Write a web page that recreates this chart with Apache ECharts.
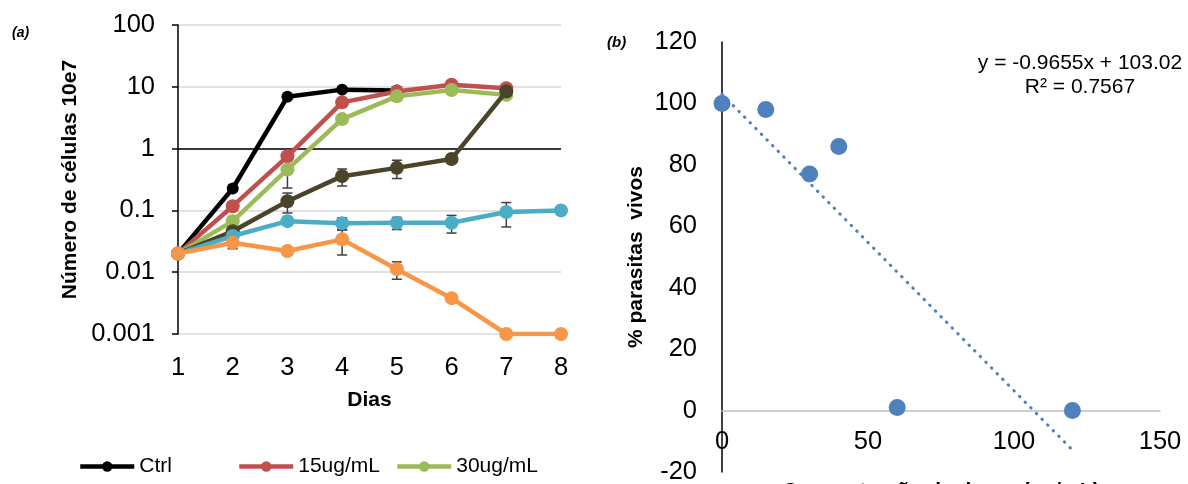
<!DOCTYPE html>
<html>
<head>
<meta charset="utf-8">
<style>
  html, body { margin: 0; padding: 0; background: #ffffff; }
  #chart { width: 1188px; height: 484px; }
</style>
<script src="https://cdn.jsdelivr.net/npm/echarts@6/dist/echarts.min.js"></script>
</head>
<body>
<div id="chart"></div>
<script>
// ---- Panel (a): cell growth over days (log scale) ----
const days = [1, 2, 3, 4, 5, 6, 7, 8];
const yTicksA = ['0.001', '0.01', '0.1', '1', '10', '100'];

const ctrl   = [0.02, 0.226, 6.9, 9.0, 8.7, null, null, null];
const c15    = [0.02, 0.117, 0.75, 5.6, 8.4, 10.8, 9.5, null];
const c30    = [0.02, 0.067, 0.46, 3.0, 7.0, 8.9, 7.4, null];
const c40    = [0.02, 0.046, 0.141, 0.358, 0.488, 0.68, 8.4, null];
const c60    = [0.02, 0.0385, 0.067, 0.062, 0.063, 0.063, 0.094, 0.1];
const c120   = [0.02, 0.030, 0.022, 0.034, 0.0112, 0.0038, 0.001, 0.001];

// error bar half-widths (same units as the values)
const err30  = [null, null, 0.23, null, null, null, null, null];
const err40  = [null, null, 0.05, 0.11, 0.16, null, null, null];
const err60  = [null, null, null, 0.014, 0.014, 0.02, 0.04, null];
const err120 = [null, 0.006, null, 0.015, 0.0035, null, null, null];

// ---- Panel (b): viability vs concentration ----
const conc      = [0, 15, 30, 40, 60, 120];
const viability = [100, 98, 77, 86, 1, 0];
const trendSlope = -0.9655;
const trendIntercept = 103.02;
const trendR2 = 0.7567;

const yMinB = -20, yMaxB = 120;

const FONT = '"Liberation Sans", Arial, sans-serif';
const TICK_FS = 25.5;
const NAME_FS = 21;

const seriesDefs = [
  { name: 'Ctrl',     data: ctrl, color: '#000000', size: 12 },
  { name: '15ug/mL',  data: c15,  color: '#C0504D', size: 14 },
  { name: '30ug/mL',  data: c30,  color: '#9BBB59', size: 14 },
  { name: '40ug/mL',  data: c40,  color: '#4A452A', size: 14 },
  { name: '60ug/mL',  data: c60,  color: '#4BACC6', size: 14 },
  { name: '120ug/mL', data: c120, color: '#F79646', size: 14 }
];
const errDefs = [err30, err40, err60, err120];
const errValues = [c30, c40, c60, c120];

function pairs(xs, ys) {
  const out = [];
  xs.forEach((x, i) => { if (ys[i] != null) out.push([x, ys[i]]); });
  return out;
}

const errData = [];
errDefs.forEach((errs, k) => {
  errs.forEach((e, i) => {
    if (e != null) errData.push([days[i], errValues[k][i], e]);
  });
});

const lineSeries = seriesDefs.map((s, idx) => ({
  type: 'line',
  name: s.name,
  xAxisIndex: 0,
  yAxisIndex: 0,
  data: pairs(days, s.data),
  symbol: 'circle',
  symbolSize: s.size,
  showSymbol: true,
  lineStyle: { width: 4.5, color: s.color },
  itemStyle: { color: s.color },
  z: 3 + idx,
  emphasis: { disabled: true },
  markLine: idx === 0 ? {
    silent: true,
    symbol: ['none', 'none'],
    label: { show: false },
    lineStyle: { color: '#000000', width: 1.5, type: 'solid' },
    data: [{ yAxis: 1 }],
    z: 2
  } : undefined
}));

const errorSeries = {
  type: 'custom',
  xAxisIndex: 0,
  yAxisIndex: 0,
  data: errData,
  z: 2,
  silent: true,
  encode: { x: 0, y: 1 },
  renderItem: function (params, api) {
    const x = api.value(0), v = api.value(1), e = api.value(2);
    const top = api.coord([x, v + e]);
    const bot = api.coord([x, v - e]);
    const cap = 5;
    const st = { stroke: '#3f3f3f', lineWidth: 1.5 };
    return {
      type: 'group',
      children: [
        { type: 'line', shape: { x1: top[0], y1: top[1], x2: bot[0], y2: bot[1] }, style: st },
        { type: 'line', shape: { x1: top[0] - cap, y1: top[1], x2: top[0] + cap, y2: top[1] }, style: st },
        { type: 'line', shape: { x1: bot[0] - cap, y1: bot[1], x2: bot[0] + cap, y2: bot[1] }, style: st }
      ]
    };
  }
};

const trendX0 = conc[0];
const trendX1 = conc[conc.length - 1];
const trendSeries = {
  type: 'line',
  xAxisIndex: 1,
  yAxisIndex: 1,
  data: [[trendX0, trendSlope * trendX0 + trendIntercept], [trendX1, trendSlope * trendX1 + trendIntercept]],
  symbol: 'none',
  lineStyle: { color: '#4F81BD', width: 3, type: [0.5, 7.5], cap: 'round' },
  z: 2,
  silent: true
};

const scatterSeries = {
  type: 'scatter',
  xAxisIndex: 1,
  yAxisIndex: 1,
  data: pairs(conc, viability),
  symbol: 'circle',
  symbolSize: 17,
  itemStyle: { color: '#4F81BD', opacity: 1 },
  z: 3,
  silent: true
};

const legendBase = {
  orient: 'horizontal',
  top: 456,
  padding: 0,
  itemWidth: 54,
  itemHeight: 13,
  itemGap: 5,
  selectedMode: false,
  textStyle: { fontFamily: FONT, fontSize: 21, color: '#000000', padding: [0, 0, 0, 0] },
  lineStyle: { width: 4.5 }
};

// panel (b) geometry: the horizontal axis sits on the zero line
const gridBTop = 42, gridBHeight = 430;
const zeroLineHeight = gridBHeight * (yMaxB - 0) / (yMaxB - yMinB);

const nameStyle = { fontFamily: FONT, fontSize: NAME_FS, fontWeight: 'bold', color: '#000000' };

const option = {
  animation: false,
  backgroundColor: '#ffffff',
  textStyle: { fontFamily: FONT },
  grid: [
    { left: 178, top: 25, width: 383, height: 309, outerBoundsMode: 'none', containLabel: false },
    { left: 722, top: gridBTop, width: 438, height: gridBHeight, outerBoundsMode: 'none', containLabel: false },
    { left: 722, top: gridBTop, width: 438, height: zeroLineHeight, outerBoundsMode: 'none', containLabel: false }
  ],
  legend: [
    Object.assign({}, legendBase, { left: 78, data: ['Ctrl'] }),
    Object.assign({}, legendBase, { left: 237, data: ['15ug/mL'] }),
    Object.assign({}, legendBase, { left: 395, data: ['30ug/mL'] })
  ],
  xAxis: [
    {
      gridIndex: 0, type: 'value', min: 1, max: 8, interval: 1,
      axisLine: { show: false }, axisTick: { show: false }, splitLine: { show: false },
      axisLabel: { fontFamily: FONT, fontSize: TICK_FS, color: '#000000', margin: 21 },
      name: 'Dias', nameLocation: 'middle', nameGap: 56,
      nameTextStyle: nameStyle
    },
    {
      gridIndex: 1, type: 'value', min: 0, max: 150, interval: 50,
      axisLine: { show: false }, axisTick: { show: false }, splitLine: { show: false },
      axisLabel: { show: false }
    },
    {
      gridIndex: 2, type: 'value', min: 0, max: 150, interval: 50,
      axisLine: { show: true, onZero: false, lineStyle: { color: '#bfbfbf', width: 1.5 } },
      axisTick: { show: false }, splitLine: { show: false },
      axisLabel: { fontFamily: FONT, fontSize: TICK_FS, color: '#000000', margin: 18 },
      name: 'Concentração de droga (ug/mL)', nameLocation: 'middle', nameGap: 70,
      nameTextStyle: nameStyle
    }
  ],
  yAxis: [
    {
      gridIndex: 0, type: 'log', logBase: 10, min: 0.001, max: 100,
      axisLine: { show: true, lineStyle: { color: '#000000', width: 1.5 } },
      axisTick: { show: true, inside: false, length: 6, lineStyle: { color: '#000000', width: 1.5 } },
      splitLine: { show: true, lineStyle: { color: '#d9d9d9', width: 1.5 } },
      minorTick: { show: false }, minorSplitLine: { show: false },
      axisLabel: {
        fontFamily: FONT, fontSize: TICK_FS, color: '#000000', margin: 23,
        formatter: function (v, i) { return yTicksA[i] !== undefined ? yTicksA[i] : String(v); }
      },
      name: 'Número de células 10e7', nameLocation: 'middle', nameGap: 97,
      nameTextStyle: nameStyle
    },
    {
      gridIndex: 1, type: 'value', min: yMinB, max: yMaxB, interval: 20,
      axisLine: { show: true, onZero: false, lineStyle: { color: '#000000', width: 1.5 } },
      axisTick: { show: false }, splitLine: { show: false },
      axisLabel: { fontFamily: FONT, fontSize: TICK_FS, color: '#000000', margin: 25 },
      name: '% parasitas  vivos', nameLocation: 'middle', nameGap: 75,
      nameTextStyle: nameStyle
    },
    {
      gridIndex: 2, type: 'value', min: 0, max: yMaxB, show: false
    }
  ],
  graphic: [
    { type: 'text', left: 12, top: 26, style: { text: '(a)', fontFamily: FONT, fontSize: 14, fontWeight: 'bold', fontStyle: 'italic', fill: '#000000' } },
    { type: 'text', left: 607, top: 35, style: { text: '(b)', fontFamily: FONT, fontSize: 15, fontWeight: 'bold', fontStyle: 'italic', fill: '#000000' } },
    { type: 'text', x: 1080, y: 63, style: {
        text: 'y = ' + trendSlope + 'x + ' + trendIntercept.toFixed(2),
        fontFamily: FONT, fontSize: 21, fill: '#000000', align: 'center', verticalAlign: 'middle' } },
    { type: 'text', x: 1080, y: 87, style: {
        text: 'R² = ' + trendR2, fontFamily: FONT, fontSize: 21, fill: '#000000', align: 'center', verticalAlign: 'middle' } }
  ],
  series: [errorSeries].concat(lineSeries, [trendSeries, scatterSeries])
};

const chart = echarts.init(document.getElementById('chart'), null, { renderer: 'canvas' });
chart.setOption(option);
</script>
</body>
</html>
